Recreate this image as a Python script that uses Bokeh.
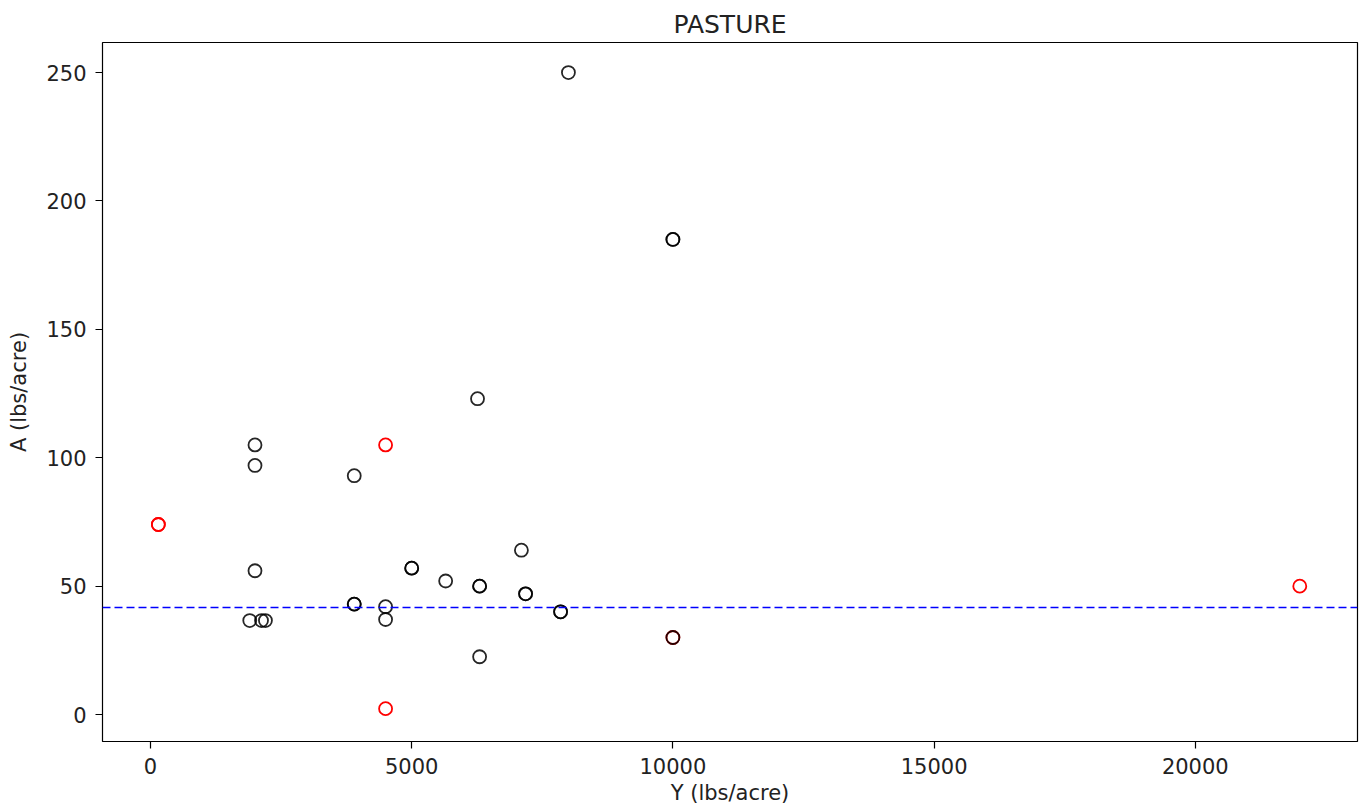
from bokeh.plotting import figure
from bokeh.models import Range1d, FixedTicker, Span
from bokeh.embed import file_html
from bokeh.resources import INLINE

# Yield (Y) vs. application (A), pasture plots
black_y = [8000, 10000, 10000, 6260, 2000, 2000, 3900, 2000, 5000, 5000, 5650,
           6300, 6300, 7100, 7180, 7180, 7850, 7850, 3900, 3900, 4500, 4500,
           1900, 2125, 2200, 6300, 10000]
black_a = [250, 185, 185, 123, 105, 97, 93, 56, 57, 57, 52,
           50, 50, 64, 47, 47, 40, 40, 43, 43, 42, 37,
           36.6, 36.6, 36.6, 22.5, 30]

red_y = [150, 150, 4500, 4500, 22000, 10000]
red_a = [74, 74, 105, 2.3, 50, 30]

ref_level = 41.7
x_ticks = [0, 5000, 10000, 15000, 20000]
y_ticks = [0, 50, 100, 150, 200, 250]

FONT = "DejaVu Sans"

p = figure(width=1361, height=812, output_backend="svg", toolbar_location=None,
           title="PASTURE",
           x_range=Range1d(-919, 23105), y_range=Range1d(-10.5, 261.7),
           min_border_left=102, min_border_right=4,
           min_border_top=42, min_border_bottom=71)

p.title.align = "center"
p.title.text_font = FONT
p.title.text_font_size = "25px"
p.title.text_font_style = "normal"
p.title.text_color = "#222222"
p.title.standoff = 8

p.xgrid.visible = False
p.ygrid.visible = False
p.outline_line_color = "black"
p.outline_line_width = 1.2
p.background_fill_color = "white"
p.border_fill_color = "white"

for ax in (p.xaxis[0], p.yaxis[0]):
    ax.axis_line_color = None
    ax.major_tick_in = 0
    ax.major_tick_out = 7
    ax.major_tick_line_width = 1.2
    ax.minor_tick_line_color = None
    ax.major_tick_line_color = "black"
    ax.major_label_text_font = FONT
    ax.major_label_text_font_size = "21px"
    ax.major_label_text_color = "#222222"
    ax.axis_label_text_font = FONT
    ax.axis_label_text_font_size = "21px"
    ax.axis_label_text_font_style = "normal"
    ax.axis_label_text_color = "#222222"
    ax.major_label_standoff = 9

p.xaxis.ticker = FixedTicker(ticks=x_ticks)
p.yaxis.ticker = FixedTicker(ticks=y_ticks)
p.xaxis.axis_label = "Y (lbs/acre)"
p.yaxis.axis_label = "A (lbs/acre)"
p.xaxis.axis_label_standoff = 4
p.yaxis.axis_label_standoff = 12

p.add_layout(Span(location=ref_level, dimension="width", line_color="blue",
                  line_dash="8 4", line_width=1.4))

p.scatter(red_y, red_a, marker="circle", size=13, fill_color=None,
          line_color="red", line_width=1.8)
p.scatter(black_y, black_a, marker="circle", size=13, fill_color=None,
          line_color="black", line_width=1.8, line_alpha=0.85)

open("out.html", "w").write(file_html(p, INLINE))
